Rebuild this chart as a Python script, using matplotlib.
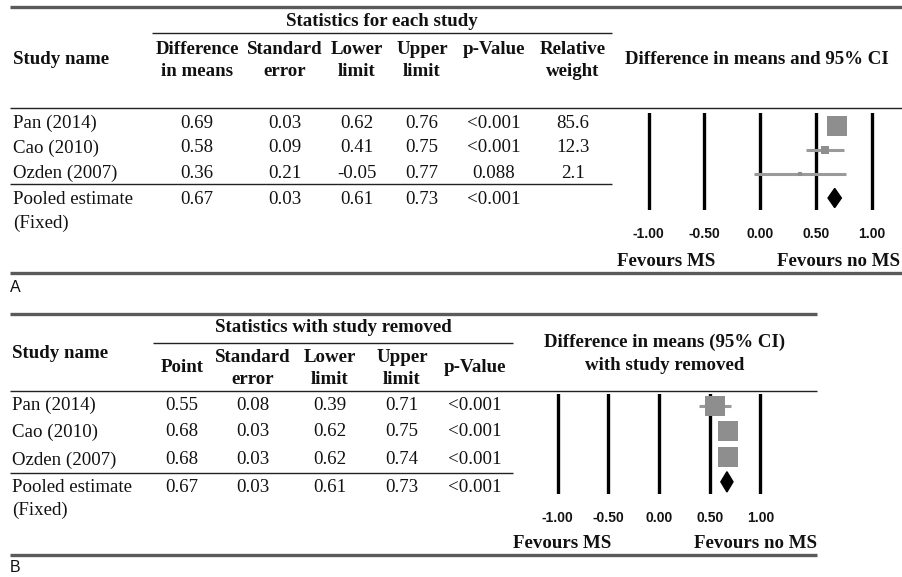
import matplotlib.pyplot as plt
from matplotlib.patches import Polygon
import numpy as np

# ---- data -------------------------------------------------------------
studies = ['Pan (2014)', 'Cao (2010)', 'Ozden (2007)']
pooled_name = ['Pooled estimate', '(Fixed)']

# panel A: statistics for each study
a_diff = [0.69, 0.58, 0.36]
a_se = [0.03, 0.09, 0.21]
a_lower = [0.62, 0.41, -0.05]
a_upper = [0.76, 0.75, 0.77]
a_p = ['<0.001', '<0.001', '0.088']
a_weight = [85.6, 12.3, 2.1]
a_pooled = [0.67, 0.03, 0.61, 0.73]
a_pooled_p = '<0.001'

# panel B: statistics with study removed
b_point = [0.55, 0.68, 0.68]
b_se = [0.08, 0.03, 0.03]
b_lower = [0.39, 0.62, 0.62]
b_upper = [0.71, 0.75, 0.74]
b_p = ['<0.001', '<0.001', '<0.001']
b_pooled = [0.67, 0.03, 0.61, 0.73]
b_pooled_p = '<0.001'

ticks = [-1.0, -0.5, 0.0, 0.5, 1.0]
tick_labels = ['-1.00', '-0.50', '0.00', '0.50', '1.00']

# ---- figure -----------------------------------------------------------
W, H = 902, 577
fig = plt.figure(figsize=(W / 100, H / 100), dpi=100)
bg = fig.add_axes([0, 0, 1, 1])
bg.set_xlim(0, W)
bg.set_ylim(H, 0)
bg.axis('off')

SERIF = 'Liberation Serif'
SANS = 'Liberation Sans'
FS = 13.6
TXT = '#111111'
RULE = '#5a5a5a'
GREY_SQ = '#8e8e8e'
GREY_LN = '#9a9a9a'


def txt(x, y, s, ha='center', bold=False, size=FS, family=SERIF):
    bg.text(x, y, s, ha=ha, va='center', fontsize=size, family=family,
            fontweight='bold' if bold else 'normal', color=TXT)


def hline(y, x0, x1, thick=False):
    bg.plot([x0, x1], [y, y], color=RULE if thick else '#222222',
            lw=2.4 if thick else 1.0, solid_capstyle='butt')


def forest(left, right, top, bottom, xlim, rows_y, est, lo, hi, sizes,
           pooled):
    # axes placed in pixel units, values through the axes' own scale
    ax = fig.add_axes([left / W, 1 - bottom / H, (right - left) / W,
                       (bottom - top) / H])
    ax.set_xlim(*xlim)
    ax.set_ylim(rows_y[1], rows_y[0])
    for s in ax.spines.values():
        s.set_visible(False)
    ax.patch.set_alpha(0)
    ax.set_yticks([])
    ax.set_xticks(ticks)
    ax.set_xticklabels(tick_labels, family=SANS, fontweight='bold',
                       fontsize=10, color=TXT)
    ax.tick_params(axis='x', length=0, pad=12)
    for t in ticks:
        ax.axvline(t, color='black', lw=2.4, zorder=1)
    rows = np.arange(len(est))
    ax.hlines(rows, lo, hi, color=GREY_LN, lw=2.2, zorder=2)
    for r, e, sz in zip(rows, est, sizes):
        ax.plot(e, r, marker='s', markersize=sz, color=GREY_SQ, mew=0,
                zorder=3)
    pe, plo, phi = pooled
    r = len(est)
    ax.add_patch(Polygon([(plo, r), (pe, r - 0.4), (phi, r), (pe, r + 0.4)],
                         closed=True, color='black', zorder=4))
    return ax


# ---- panel A ----------------------------------------------------------
hline(7, 10, W, thick=True)
txt(382, 21, 'Statistics for each study', bold=True)
hline(33, 152, 612)
txt(13, 60, 'Study name', ha='left', bold=True)
a_cols = [197, 285, 357, 422, 494, 573]
a_head = [('Difference', 'in means'), ('Standard', 'error'),
          ('Lower', 'limit'), ('Upper', 'limit'), ('p-Value', ''),
          ('Relative', 'weight')]
for x, (h1, h2) in zip(a_cols, a_head):
    txt(x, 49, h1, bold=True)
    if h2:
        txt(x, 72, h2, bold=True)
txt(757, 60, 'Difference in means and 95% CI', bold=True)
hline(108, 10, W)

a_rows = [123, 148, 173]
for i, y in enumerate(a_rows):
    txt(13, y, studies[i], ha='left')
    vals = [f'{a_diff[i]:.2f}', f'{a_se[i]:.2f}', f'{a_lower[i]:.2f}',
            f'{a_upper[i]:.2f}', a_p[i], f'{a_weight[i]:.1f}']
    for x, v in zip(a_cols, vals):
        txt(x, y, v)
hline(184, 10, 612)
txt(13, 199, pooled_name[0], ha='left')
txt(13, 223, pooled_name[1], ha='left')
for x, v in zip(a_cols, [f'{v:.2f}' for v in a_pooled] + [a_pooled_p]):
    txt(x, 199, v)
txt(617, 262, 'Fevours MS', ha='left', bold=True)
txt(900, 262, 'Fevours no MS', ha='right', bold=True)
hline(273, 10, W, thick=True)
txt(10, 287, 'A', ha='left', size=11.5, family=SANS)

# forest A: x(v) = 760 + 111.5 v
a_sizes = [2.16 * np.sqrt(w) * 0.72 for w in a_weight]
forest(760 - 1.1 * 111.5, 760 + 1.25 * 111.5, 113, 210, (-1.1, 1.25),
       (-0.55, 3.5), a_diff, a_lower, a_upper, a_sizes,
       (a_pooled[0], a_pooled[2], a_pooled[3]))

# ---- panel B ----------------------------------------------------------
hline(314, 10, 817, thick=True)
txt(333, 328, 'Statistics with study removed', bold=True)
hline(343, 153, 513)
txt(12, 354, 'Study name', ha='left', bold=True)
b_cols = [182, 253, 330, 402, 475]
b_head = [('Point', None), ('Standard', 'error'), ('Lower', 'limit'),
          ('Upper', 'limit'), ('p-Value', None)]
for x, (h1, h2) in zip(b_cols, b_head):
    if h2 is None:
        txt(x, 368, h1, bold=True)
    else:
        txt(x, 357, h1, bold=True)
        txt(x, 380, h2, bold=True)
txt(665, 342, 'Difference in means (95% CI)', bold=True)
txt(665, 366, 'with study removed', bold=True)
hline(391, 10, 817)

b_rows = [405, 432, 460]
for i, y in enumerate(b_rows):
    txt(12, y, studies[i], ha='left')
    vals = [f'{b_point[i]:.2f}', f'{b_se[i]:.2f}', f'{b_lower[i]:.2f}',
            f'{b_upper[i]:.2f}', b_p[i]]
    for x, v in zip(b_cols, vals):
        txt(x, y, v)
hline(473, 10, 513)
txt(12, 487, pooled_name[0], ha='left')
txt(12, 510, pooled_name[1], ha='left')
for x, v in zip(b_cols, [f'{v:.2f}' for v in b_pooled] + [b_pooled_p]):
    txt(x, 487, v)
txt(513, 543, 'Fevours MS', ha='left', bold=True)
txt(817, 543, 'Fevours no MS', ha='right', bold=True)
hline(555, 10, 817, thick=True)
txt(10, 567, 'B', ha='left', size=11.5, family=SANS)

# forest B: x(v) = 659 + 101.4 v
b_sizes = [20 * 0.72] * 3
forest(659 - 1.15 * 101.4, 659 + 1.2 * 101.4, 394, 494, (-1.15, 1.2),
       (-0.47, 3.48), b_point, b_lower, b_upper, b_sizes,
       (b_pooled[0], b_pooled[2], b_pooled[3]))

fig.savefig('out.png', dpi=100)
